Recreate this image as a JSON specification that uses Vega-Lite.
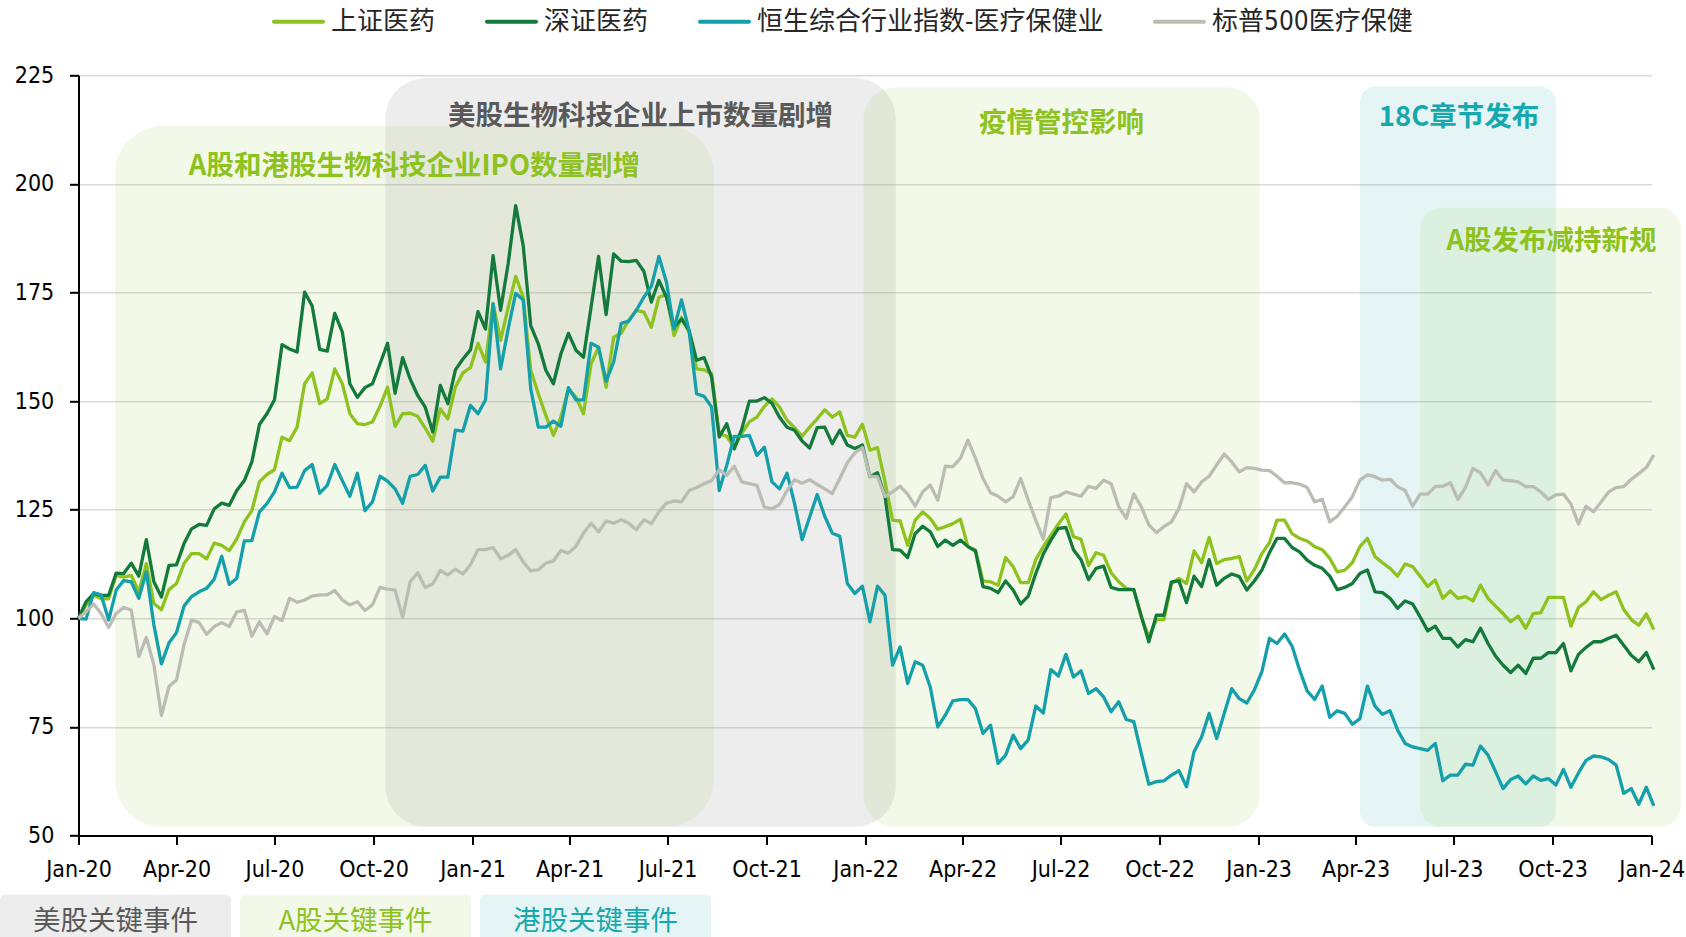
{
"$schema":"https://vega.github.io/schema/vega-lite/v6.json",
"width":1573.2,"height":760.2,
"autosize":{"type":"none"},
"padding":{"left":78.5,"top":75.3,"right":34.3,"bottom":101.5},
"background":"white",
"config":{"view":{"stroke":null},"font":"DejaVu Sans Condensed"},
"datasets":{
"regions":[
{"type":"A股关键事件","start":"2020-02-04","end":"2021-08-13","top":213.4,"label":"A股和港股生物科技企业IPO数量剧增","lx":"2020-11-08","ly":204.0},
{"type":"美股关键事件","start":"2020-10-12","end":"2022-01-29","top":224.4,"label":"美股生物科技企业上市数量剧增","lx":"2021-06-06","ly":215.3},
{"type":"A股关键事件","start":"2021-12-30","end":"2023-01-02","top":222.2,"label":"疫情管控影响","lx":"2022-07-02","ly":213.9},
{"type":"港股关键事件","start":"2023-04-05","end":"2023-10-04","top":222.4,"label":"18C章节发布","lx":"2023-07-06","ly":215.1},
{"type":"A股关键事件","start":"2023-05-31","end":"2024-01-28","top":194.5,"label":"A股发布减持新规","lx":"2023-09-30","ly":186.7}
],
"series":[
{"s":"上证医药","d":"2020-01-01","v":100},{"s":"上证医药","d":"2020-01-08","v":103},{"s":"上证医药","d":"2020-01-15","v":105.3},{"s":"上证医药","d":"2020-01-22","v":104.5},{"s":"上证医药","d":"2020-01-29","v":104.5},{"s":"上证医药","d":"2020-02-05","v":109.9},{"s":"上证医药","d":"2020-02-12","v":109.5},{"s":"上证医药","d":"2020-02-19","v":109.9},{"s":"上证医药","d":"2020-02-26","v":106.1},{"s":"上证医药","d":"2020-03-04","v":112.6},
{"s":"上证医药","d":"2020-03-11","v":103.4},{"s":"上证医药","d":"2020-03-18","v":102},{"s":"上证医药","d":"2020-03-25","v":106.6},{"s":"上证医药","d":"2020-04-01","v":108},{"s":"上证医药","d":"2020-04-08","v":112.6},{"s":"上证医药","d":"2020-04-15","v":114.9},{"s":"上证医药","d":"2020-04-22","v":114.9},{"s":"上证医药","d":"2020-04-29","v":113.7},{"s":"上证医药","d":"2020-05-06","v":117.3},{"s":"上证医药","d":"2020-05-13","v":116.8},
{"s":"上证医药","d":"2020-05-20","v":115.6},{"s":"上证医药","d":"2020-05-27","v":118.3},{"s":"上证医药","d":"2020-06-03","v":122.2},{"s":"上证医药","d":"2020-06-10","v":124.8},{"s":"上证医药","d":"2020-06-17","v":131.4},{"s":"上证医药","d":"2020-06-24","v":133.1},{"s":"上证医药","d":"2020-07-01","v":134.2},{"s":"上证医药","d":"2020-07-08","v":141.7},{"s":"上证医药","d":"2020-07-15","v":140.9},{"s":"上证医药","d":"2020-07-22","v":144},
{"s":"上证医药","d":"2020-07-29","v":154},{"s":"上证医药","d":"2020-08-05","v":156.5},{"s":"上证医药","d":"2020-08-12","v":149.4},{"s":"上证医药","d":"2020-08-19","v":150.5},{"s":"上证医药","d":"2020-08-26","v":157.4},{"s":"上证医药","d":"2020-09-02","v":154},{"s":"上证医药","d":"2020-09-09","v":147.1},{"s":"上证医药","d":"2020-09-16","v":144.8},{"s":"上证医药","d":"2020-09-23","v":144.6},{"s":"上证医药","d":"2020-09-30","v":145.2},
{"s":"上证医药","d":"2020-10-07","v":148.8},{"s":"上证医药","d":"2020-10-14","v":153.2},{"s":"上证医药","d":"2020-10-21","v":144.2},{"s":"上证医药","d":"2020-10-28","v":147.1},{"s":"上证医药","d":"2020-11-04","v":147.2},{"s":"上证医药","d":"2020-11-11","v":146.5},{"s":"上证医药","d":"2020-11-18","v":143.8},{"s":"上证医药","d":"2020-11-25","v":140.8},{"s":"上证医药","d":"2020-12-02","v":148.2},{"s":"上证医药","d":"2020-12-09","v":145.9},
{"s":"上证医药","d":"2020-12-16","v":153.2},{"s":"上证医药","d":"2020-12-23","v":156.5},{"s":"上证医药","d":"2020-12-30","v":157.7},{"s":"上证医药","d":"2021-01-06","v":163.3},{"s":"上证医药","d":"2021-01-13","v":159},{"s":"上证医药","d":"2021-01-20","v":172.5},{"s":"上证医药","d":"2021-01-27","v":164},{"s":"上证医药","d":"2021-02-03","v":171.5},{"s":"上证医药","d":"2021-02-10","v":178.7},{"s":"上证医药","d":"2021-02-17","v":173.9},
{"s":"上证医药","d":"2021-02-24","v":157.1},{"s":"上证医药","d":"2021-03-03","v":151.7},{"s":"上证医药","d":"2021-03-10","v":146.7},{"s":"上证医药","d":"2021-03-17","v":142.1},{"s":"上证医药","d":"2021-03-24","v":146.3},{"s":"上证医药","d":"2021-03-31","v":152.8},{"s":"上证医药","d":"2021-04-07","v":150.9},{"s":"上证医药","d":"2021-04-14","v":147.1},{"s":"上证医药","d":"2021-04-21","v":158.6},{"s":"上证医药","d":"2021-04-28","v":162.4},
{"s":"上证医药","d":"2021-05-05","v":153.2},{"s":"上证医药","d":"2021-05-12","v":164.7},{"s":"上证医药","d":"2021-05-19","v":165.6},{"s":"上证医药","d":"2021-05-26","v":168.6},{"s":"上证医药","d":"2021-06-02","v":170.9},{"s":"上证医药","d":"2021-06-09","v":170.5},{"s":"上证医药","d":"2021-06-16","v":167},{"s":"上证医药","d":"2021-06-23","v":173.9},{"s":"上证医药","d":"2021-06-30","v":174.5},{"s":"上证医药","d":"2021-07-07","v":165.1},
{"s":"上证医药","d":"2021-07-14","v":169.3},{"s":"上证医药","d":"2021-07-21","v":165.9},{"s":"上证医药","d":"2021-07-28","v":157.4},{"s":"上证医药","d":"2021-08-04","v":157.2},{"s":"上证医药","d":"2021-08-11","v":156.3},{"s":"上证医药","d":"2021-08-18","v":142.5},{"s":"上证医药","d":"2021-08-25","v":141.9},{"s":"上证医药","d":"2021-09-01","v":139.3},{"s":"上证医药","d":"2021-09-08","v":142.6},{"s":"上证医药","d":"2021-09-15","v":145.2},
{"s":"上证医药","d":"2021-09-22","v":146.3},{"s":"上证医药","d":"2021-09-29","v":148.8},{"s":"上证医药","d":"2021-10-06","v":150.5},{"s":"上证医药","d":"2021-10-13","v":148.6},{"s":"上证医药","d":"2021-10-20","v":145.6},{"s":"上证医药","d":"2021-10-27","v":143.9},{"s":"上证医药","d":"2021-11-03","v":141.9},{"s":"上证医药","d":"2021-11-10","v":144},{"s":"上证医药","d":"2021-11-17","v":145.9},{"s":"上证医药","d":"2021-11-24","v":148},
{"s":"上证医药","d":"2021-12-01","v":146.3},{"s":"上证医药","d":"2021-12-08","v":147.5},{"s":"上证医药","d":"2021-12-15","v":142.1},{"s":"上证医药","d":"2021-12-22","v":141.7},{"s":"上证医药","d":"2021-12-29","v":144.7},{"s":"上证医药","d":"2022-01-05","v":138.7},{"s":"上证医药","d":"2022-01-12","v":139.3},{"s":"上证医药","d":"2022-01-19","v":131.4},{"s":"上证医药","d":"2022-01-26","v":122.6},{"s":"上证医药","d":"2022-02-02","v":122.4},
{"s":"上证医药","d":"2022-02-09","v":116.8},{"s":"上证医药","d":"2022-02-16","v":122.6},{"s":"上证医药","d":"2022-02-23","v":124.5},{"s":"上证医药","d":"2022-03-02","v":123},{"s":"上证医药","d":"2022-03-09","v":120.5},{"s":"上证医药","d":"2022-03-16","v":121.1},{"s":"上证医药","d":"2022-03-23","v":121.8},{"s":"上证医药","d":"2022-03-30","v":122.8},{"s":"上证医药","d":"2022-04-06","v":116.5},{"s":"上证医药","d":"2022-04-13","v":115.7},
{"s":"上证医药","d":"2022-04-20","v":108.6},{"s":"上证医药","d":"2022-04-27","v":108.4},{"s":"上证医药","d":"2022-05-04","v":107.6},{"s":"上证医药","d":"2022-05-11","v":114},{"s":"上证医药","d":"2022-05-18","v":111.9},{"s":"上证医药","d":"2022-05-25","v":108.2},{"s":"上证医药","d":"2022-06-01","v":108.2},{"s":"上证医药","d":"2022-06-08","v":113.5},{"s":"上证医药","d":"2022-06-15","v":116.5},{"s":"上证医药","d":"2022-06-22","v":119.1},
{"s":"上证医药","d":"2022-06-29","v":121.7},{"s":"上证医药","d":"2022-07-06","v":124},{"s":"上证医药","d":"2022-07-13","v":118.8},{"s":"上证医药","d":"2022-07-20","v":118.2},{"s":"上证医药","d":"2022-07-27","v":112.2},{"s":"上证医药","d":"2022-08-03","v":115.1},{"s":"上证医药","d":"2022-08-10","v":114.5},{"s":"上证医药","d":"2022-08-17","v":110.5},{"s":"上证医药","d":"2022-08-24","v":108.4},{"s":"上证医药","d":"2022-08-31","v":106.9},
{"s":"上证医药","d":"2022-09-07","v":106.6},{"s":"上证医药","d":"2022-09-14","v":100.3},{"s":"上证医药","d":"2022-09-21","v":95.7},{"s":"上证医药","d":"2022-09-28","v":99.7},{"s":"上证医药","d":"2022-10-05","v":99.7},{"s":"上证医药","d":"2022-10-12","v":108},{"s":"上证医药","d":"2022-10-19","v":109.2},{"s":"上证医药","d":"2022-10-26","v":108},{"s":"上证医药","d":"2022-11-02","v":115.5},{"s":"上证医药","d":"2022-11-09","v":112.8},
{"s":"上证医药","d":"2022-11-16","v":118.6},{"s":"上证医药","d":"2022-11-23","v":112.6},{"s":"上证医药","d":"2022-11-30","v":113.5},{"s":"上证医药","d":"2022-12-07","v":113.8},{"s":"上证医药","d":"2022-12-14","v":114.2},{"s":"上证医药","d":"2022-12-21","v":108.6},{"s":"上证医药","d":"2022-12-28","v":111.2},{"s":"上证医药","d":"2023-01-04","v":114.9},{"s":"上证医药","d":"2023-01-11","v":117.4},{"s":"上证医药","d":"2023-01-18","v":122.6},
{"s":"上证医药","d":"2023-01-25","v":122.6},{"s":"上证医药","d":"2023-02-01","v":119.5},{"s":"上证医药","d":"2023-02-08","v":118.4},{"s":"上证医药","d":"2023-02-15","v":117.8},{"s":"上证医药","d":"2023-02-22","v":116.5},{"s":"上证医药","d":"2023-03-01","v":115.8},{"s":"上证医药","d":"2023-03-08","v":113.8},{"s":"上证医药","d":"2023-03-15","v":110.7},{"s":"上证医药","d":"2023-03-22","v":111.1},{"s":"上证医药","d":"2023-03-29","v":112.8},
{"s":"上证医药","d":"2023-04-05","v":116.5},{"s":"上证医药","d":"2023-04-12","v":118.4},{"s":"上证医药","d":"2023-04-19","v":114.2},{"s":"上证医药","d":"2023-04-26","v":112.8},{"s":"上证医药","d":"2023-05-03","v":111.5},{"s":"上证医药","d":"2023-05-10","v":109.7},{"s":"上证医药","d":"2023-05-17","v":112.5},{"s":"上证医药","d":"2023-05-24","v":111.9},{"s":"上证医药","d":"2023-05-31","v":109.7},{"s":"上证医药","d":"2023-06-07","v":107.3},
{"s":"上证医药","d":"2023-06-14","v":108.8},{"s":"上证医药","d":"2023-06-21","v":104.6},{"s":"上证医药","d":"2023-06-28","v":106.3},{"s":"上证医药","d":"2023-07-05","v":104.6},{"s":"上证医药","d":"2023-07-12","v":105},{"s":"上证医药","d":"2023-07-19","v":104},{"s":"上证医药","d":"2023-07-26","v":107.6},{"s":"上证医药","d":"2023-08-02","v":104.6},{"s":"上证医药","d":"2023-08-09","v":102.8},{"s":"上证医药","d":"2023-08-16","v":101.1},
{"s":"上证医药","d":"2023-08-23","v":99.2},{"s":"上证医药","d":"2023-08-30","v":100.5},{"s":"上证医药","d":"2023-09-06","v":97.7},{"s":"上证医药","d":"2023-09-13","v":101.1},{"s":"上证医药","d":"2023-09-20","v":101.3},{"s":"上证医药","d":"2023-09-27","v":104.8},{"s":"上证医药","d":"2023-10-04","v":104.8},{"s":"上证医药","d":"2023-10-11","v":104.8},{"s":"上证医药","d":"2023-10-18","v":98.2},{"s":"上证医药","d":"2023-10-25","v":102.5},
{"s":"上证医药","d":"2023-11-01","v":103.8},{"s":"上证医药","d":"2023-11-08","v":106.1},{"s":"上证医药","d":"2023-11-15","v":104.3},{"s":"上证医药","d":"2023-11-22","v":105.3},{"s":"上证医药","d":"2023-11-29","v":106.1},{"s":"上证医药","d":"2023-12-06","v":102},{"s":"上证医药","d":"2023-12-13","v":99.7},{"s":"上证医药","d":"2023-12-20","v":98.4},{"s":"上证医药","d":"2023-12-27","v":101},{"s":"上证医药","d":"2024-01-03","v":97.4},
{"s":"深证医药","d":"2020-01-01","v":100},{"s":"深证医药","d":"2020-01-08","v":103.8},{"s":"深证医药","d":"2020-01-15","v":105.7},{"s":"深证医药","d":"2020-01-22","v":105.3},{"s":"深证医药","d":"2020-01-29","v":105.3},{"s":"深证医药","d":"2020-02-05","v":110.4},{"s":"深证医药","d":"2020-02-12","v":110.3},{"s":"深证医药","d":"2020-02-19","v":112.7},{"s":"深证医药","d":"2020-02-26","v":109.7},{"s":"深证医药","d":"2020-03-04","v":118.1},
{"s":"深证医药","d":"2020-03-11","v":108.4},{"s":"深证医药","d":"2020-03-18","v":104.9},{"s":"深证医药","d":"2020-03-25","v":112.2},{"s":"深证医药","d":"2020-04-01","v":112.3},{"s":"深证医药","d":"2020-04-08","v":117.2},{"s":"深证医药","d":"2020-04-15","v":120.6},{"s":"深证医药","d":"2020-04-22","v":121.6},{"s":"深证医药","d":"2020-04-29","v":121.4},{"s":"深证医药","d":"2020-05-06","v":125.2},{"s":"深证医药","d":"2020-05-13","v":126.5},
{"s":"深证医药","d":"2020-05-20","v":126},{"s":"深证医药","d":"2020-05-27","v":129.4},{"s":"深证医药","d":"2020-06-03","v":131.7},{"s":"深证医药","d":"2020-06-10","v":136},{"s":"深证医药","d":"2020-06-17","v":144.6},{"s":"深证医药","d":"2020-06-24","v":147.1},{"s":"深证医药","d":"2020-07-01","v":150.3},{"s":"深证医药","d":"2020-07-08","v":163},{"s":"深证医药","d":"2020-07-15","v":162},{"s":"深证医药","d":"2020-07-22","v":161.3},
{"s":"深证医药","d":"2020-07-29","v":175.1},{"s":"深证医药","d":"2020-08-05","v":171.9},{"s":"深证医药","d":"2020-08-12","v":161.9},{"s":"深证医药","d":"2020-08-19","v":161.5},{"s":"深证医药","d":"2020-08-26","v":170.2},{"s":"深证医药","d":"2020-09-02","v":165.9},{"s":"深证医药","d":"2020-09-09","v":154},{"s":"深证医药","d":"2020-09-16","v":150.9},{"s":"深证医药","d":"2020-09-23","v":153.1},{"s":"深证医药","d":"2020-09-30","v":154},
{"s":"深证医药","d":"2020-10-07","v":158.6},{"s":"深证医药","d":"2020-10-14","v":163.3},{"s":"深证医药","d":"2020-10-21","v":151.8},{"s":"深证医药","d":"2020-10-28","v":160},{"s":"深证医药","d":"2020-11-04","v":155.1},{"s":"深证医药","d":"2020-11-11","v":151.3},{"s":"深证医药","d":"2020-11-18","v":148.6},{"s":"深证医药","d":"2020-11-25","v":142.9},{"s":"深证医药","d":"2020-12-02","v":153.6},{"s":"深证医药","d":"2020-12-09","v":149.4},
{"s":"深证医药","d":"2020-12-16","v":157.2},{"s":"深证医药","d":"2020-12-23","v":159.7},{"s":"深证医药","d":"2020-12-30","v":161.8},{"s":"深证医药","d":"2021-01-06","v":170.6},{"s":"深证医药","d":"2021-01-13","v":166.6},{"s":"深证医药","d":"2021-01-20","v":183.5},{"s":"深证医药","d":"2021-01-27","v":170.9},{"s":"深证医药","d":"2021-02-03","v":181.6},{"s":"深证医药","d":"2021-02-10","v":195},{"s":"深证医药","d":"2021-02-17","v":185.8},
{"s":"深证医药","d":"2021-02-24","v":167.4},{"s":"深证医药","d":"2021-03-03","v":163.2},{"s":"深证医药","d":"2021-03-10","v":157.1},{"s":"深证医药","d":"2021-03-17","v":154},{"s":"深证医药","d":"2021-03-24","v":160.9},{"s":"深证医药","d":"2021-03-31","v":165.6},{"s":"深证医药","d":"2021-04-07","v":161.7},{"s":"深证医药","d":"2021-04-14","v":160.1},{"s":"深证医药","d":"2021-04-21","v":171.6},{"s":"深证医药","d":"2021-04-28","v":183.3},
{"s":"深证医药","d":"2021-05-05","v":169.9},{"s":"深证医药","d":"2021-05-12","v":183.9},{"s":"深证医药","d":"2021-05-19","v":182.2},{"s":"深证医药","d":"2021-05-26","v":182.1},{"s":"深证医药","d":"2021-06-02","v":182.4},{"s":"深证医药","d":"2021-06-09","v":179.9},{"s":"深证医药","d":"2021-06-16","v":172.8},{"s":"深证医药","d":"2021-06-23","v":177.8},{"s":"深证医药","d":"2021-06-30","v":173.9},{"s":"深证医药","d":"2021-07-07","v":167},
{"s":"深证医药","d":"2021-07-14","v":168.9},{"s":"深证医药","d":"2021-07-21","v":166.3},{"s":"深证医药","d":"2021-07-28","v":159.4},{"s":"深证医药","d":"2021-08-04","v":160},{"s":"深证医药","d":"2021-08-11","v":155.5},{"s":"深证医药","d":"2021-08-18","v":141.7},{"s":"深证医药","d":"2021-08-25","v":144.8},{"s":"深证医药","d":"2021-09-01","v":139},{"s":"深证医药","d":"2021-09-08","v":143.6},{"s":"深证医药","d":"2021-09-15","v":150},
{"s":"深证医药","d":"2021-09-22","v":150},{"s":"深证医药","d":"2021-09-29","v":150.8},{"s":"深证医药","d":"2021-10-06","v":149.5},{"s":"深证医药","d":"2021-10-13","v":146.3},{"s":"深证医药","d":"2021-10-20","v":144},{"s":"深证医药","d":"2021-10-27","v":143.3},{"s":"深证医药","d":"2021-11-03","v":140.8},{"s":"深证医药","d":"2021-11-10","v":139.2},{"s":"深证医药","d":"2021-11-17","v":143.9},{"s":"深证医药","d":"2021-11-24","v":144},
{"s":"深证医药","d":"2021-12-01","v":140.2},{"s":"深证医药","d":"2021-12-08","v":143.3},{"s":"深证医药","d":"2021-12-15","v":139.9},{"s":"深证医药","d":"2021-12-22","v":139.1},{"s":"深证医药","d":"2021-12-29","v":139.9},{"s":"深证医药","d":"2022-01-05","v":132.6},{"s":"深证医药","d":"2022-01-12","v":133.5},{"s":"深证医药","d":"2022-01-19","v":128},{"s":"深证医药","d":"2022-01-26","v":115.8},{"s":"深证医药","d":"2022-02-02","v":115.7},
{"s":"深证医药","d":"2022-02-09","v":114},{"s":"深证医药","d":"2022-02-16","v":119.5},{"s":"深证医药","d":"2022-02-23","v":121.2},{"s":"深证医药","d":"2022-03-02","v":119.9},{"s":"深证医药","d":"2022-03-09","v":116.5},{"s":"深证医药","d":"2022-03-16","v":118},{"s":"深证医药","d":"2022-03-23","v":116.8},{"s":"深证医药","d":"2022-03-30","v":118},{"s":"深证医药","d":"2022-04-06","v":116.5},{"s":"深证医药","d":"2022-04-13","v":115.5},
{"s":"深证医药","d":"2022-04-20","v":107.3},{"s":"深证医药","d":"2022-04-27","v":106.9},{"s":"深证医药","d":"2022-05-04","v":105.9},{"s":"深证医药","d":"2022-05-11","v":108.6},{"s":"深证医药","d":"2022-05-18","v":106.5},{"s":"深证医药","d":"2022-05-25","v":103.3},{"s":"深证医药","d":"2022-06-01","v":105.1},{"s":"深证医药","d":"2022-06-08","v":110.3},{"s":"深证医药","d":"2022-06-15","v":114.8},{"s":"深证医药","d":"2022-06-22","v":118},
{"s":"深证医药","d":"2022-06-29","v":120.7},{"s":"深证医药","d":"2022-07-06","v":120.9},{"s":"深证医药","d":"2022-07-13","v":115.8},{"s":"深证医药","d":"2022-07-20","v":113.5},{"s":"深证医药","d":"2022-07-27","v":108.9},{"s":"深证医药","d":"2022-08-03","v":111.5},{"s":"深证医药","d":"2022-08-10","v":112},{"s":"深证医药","d":"2022-08-17","v":107.1},{"s":"深证医药","d":"2022-08-24","v":106.6},{"s":"深证医药","d":"2022-08-31","v":106.6},
{"s":"深证医药","d":"2022-09-07","v":106.6},{"s":"深证医药","d":"2022-09-14","v":100.5},{"s":"深证医药","d":"2022-09-21","v":94.6},{"s":"深证医药","d":"2022-09-28","v":100.7},{"s":"深证医药","d":"2022-10-05","v":100.7},{"s":"深证医药","d":"2022-10-12","v":108.4},{"s":"深证医药","d":"2022-10-19","v":108.6},{"s":"深证医药","d":"2022-10-26","v":103.6},{"s":"深证医药","d":"2022-11-02","v":109.7},{"s":"深证医药","d":"2022-11-09","v":107.3},
{"s":"深证医药","d":"2022-11-16","v":113.5},{"s":"深证医药","d":"2022-11-23","v":107.6},{"s":"深证医药","d":"2022-11-30","v":109.2},{"s":"深证医药","d":"2022-12-07","v":110.2},{"s":"深证医药","d":"2022-12-14","v":109.6},{"s":"深证医药","d":"2022-12-21","v":106.5},{"s":"深证医药","d":"2022-12-28","v":108.6},{"s":"深证医药","d":"2023-01-04","v":111.1},{"s":"深证医药","d":"2023-01-11","v":115.1},{"s":"深证医药","d":"2023-01-18","v":118.4},
{"s":"深证医药","d":"2023-01-25","v":118.4},{"s":"深证医药","d":"2023-02-01","v":116.3},{"s":"深证医药","d":"2023-02-08","v":115.3},{"s":"深证医药","d":"2023-02-15","v":113.4},{"s":"深证医药","d":"2023-02-22","v":112.2},{"s":"深证医药","d":"2023-03-01","v":111.5},{"s":"深证医药","d":"2023-03-08","v":109.7},{"s":"深证医药","d":"2023-03-15","v":106.6},{"s":"深证医药","d":"2023-03-22","v":107.1},{"s":"深证医药","d":"2023-03-29","v":108},
{"s":"深证医药","d":"2023-04-05","v":110.3},{"s":"深证医药","d":"2023-04-12","v":111.1},{"s":"深证医药","d":"2023-04-19","v":106.1},{"s":"深证医药","d":"2023-04-26","v":105.9},{"s":"深证医药","d":"2023-05-03","v":104.6},{"s":"深证医药","d":"2023-05-10","v":102.3},{"s":"深证医药","d":"2023-05-17","v":104},{"s":"深证医药","d":"2023-05-24","v":103.3},{"s":"深证医药","d":"2023-05-31","v":100.3},{"s":"深证医药","d":"2023-06-07","v":97.1},
{"s":"深证医药","d":"2023-06-14","v":98.2},{"s":"深证医药","d":"2023-06-21","v":95.4},{"s":"深证医药","d":"2023-06-28","v":95.4},{"s":"深证医药","d":"2023-07-05","v":93.4},{"s":"深证医药","d":"2023-07-12","v":95.1},{"s":"深证医药","d":"2023-07-19","v":94.6},{"s":"深证医药","d":"2023-07-26","v":97.7},{"s":"深证医药","d":"2023-08-02","v":94.2},{"s":"深证医药","d":"2023-08-09","v":91.3},{"s":"深证医药","d":"2023-08-16","v":89.2},
{"s":"深证医药","d":"2023-08-23","v":87.5},{"s":"深证医药","d":"2023-08-30","v":89.2},{"s":"深证医药","d":"2023-09-06","v":87.3},{"s":"深证医药","d":"2023-09-13","v":90.8},{"s":"深证医药","d":"2023-09-20","v":90.8},{"s":"深证医药","d":"2023-09-27","v":92.1},{"s":"深证医药","d":"2023-10-04","v":92.1},{"s":"深证医药","d":"2023-10-11","v":94.2},{"s":"深证医药","d":"2023-10-18","v":87.9},{"s":"深证医药","d":"2023-10-25","v":91.7},
{"s":"深证医药","d":"2023-11-01","v":93.3},{"s":"深证医药","d":"2023-11-08","v":94.6},{"s":"深证医药","d":"2023-11-15","v":94.6},{"s":"深证医药","d":"2023-11-22","v":95.4},{"s":"深证医药","d":"2023-11-29","v":96.1},{"s":"深证医药","d":"2023-12-06","v":93.8},{"s":"深证医药","d":"2023-12-13","v":91.5},{"s":"深证医药","d":"2023-12-20","v":90},{"s":"深证医药","d":"2023-12-27","v":92.1},{"s":"深证医药","d":"2024-01-03","v":88.2},
{"s":"恒生综合行业指数-医疗保健业","d":"2020-01-01","v":100},{"s":"恒生综合行业指数-医疗保健业","d":"2020-01-08","v":99.8},{"s":"恒生综合行业指数-医疗保健业","d":"2020-01-15","v":105.9},{"s":"恒生综合行业指数-医疗保健业","d":"2020-01-22","v":105.4},{"s":"恒生综合行业指数-医疗保健业","d":"2020-01-29","v":99.6},{"s":"恒生综合行业指数-医疗保健业","d":"2020-02-05","v":106.5},{"s":"恒生综合行业指数-医疗保健业","d":"2020-02-12","v":108.7},{"s":"恒生综合行业指数-医疗保健业","d":"2020-02-19","v":108.4},{"s":"恒生综合行业指数-医疗保健业","d":"2020-02-26","v":104.6},{"s":"恒生综合行业指数-医疗保健业","d":"2020-03-04","v":110.7},
{"s":"恒生综合行业指数-医疗保健业","d":"2020-03-11","v":98.5},{"s":"恒生综合行业指数-医疗保健业","d":"2020-03-18","v":89.5},{"s":"恒生综合行业指数-医疗保健业","d":"2020-03-25","v":94.3},{"s":"恒生综合行业指数-医疗保健业","d":"2020-04-01","v":96.7},{"s":"恒生综合行业指数-医疗保健业","d":"2020-04-08","v":102.8},{"s":"恒生综合行业指数-医疗保健业","d":"2020-04-15","v":105},{"s":"恒生综合行业指数-医疗保健业","d":"2020-04-22","v":106.1},{"s":"恒生综合行业指数-医疗保健业","d":"2020-04-29","v":106.9},{"s":"恒生综合行业指数-医疗保健业","d":"2020-05-06","v":109},{"s":"恒生综合行业指数-医疗保健业","d":"2020-05-13","v":114.3},
{"s":"恒生综合行业指数-医疗保健业","d":"2020-05-20","v":107.8},{"s":"恒生综合行业指数-医疗保健业","d":"2020-05-27","v":109.2},{"s":"恒生综合行业指数-医疗保健业","d":"2020-06-03","v":117.8},{"s":"恒生综合行业指数-医疗保健业","d":"2020-06-10","v":117.9},{"s":"恒生综合行业指数-医疗保健业","d":"2020-06-17","v":124.5},{"s":"恒生综合行业指数-医疗保健业","d":"2020-06-24","v":126.4},{"s":"恒生综合行业指数-医疗保健业","d":"2020-07-01","v":129.1},{"s":"恒生综合行业指数-医疗保健业","d":"2020-07-08","v":133.4},{"s":"恒生综合行业指数-医疗保健业","d":"2020-07-15","v":130.1},{"s":"恒生综合行业指数-医疗保健业","d":"2020-07-22","v":130.2},
{"s":"恒生综合行业指数-医疗保健业","d":"2020-07-29","v":134},{"s":"恒生综合行业指数-医疗保健业","d":"2020-08-05","v":135.4},{"s":"恒生综合行业指数-医疗保健业","d":"2020-08-12","v":128.8},{"s":"恒生综合行业指数-医疗保健业","d":"2020-08-19","v":130.6},{"s":"恒生综合行业指数-医疗保健业","d":"2020-08-26","v":135.4},{"s":"恒生综合行业指数-医疗保健业","d":"2020-09-02","v":131.7},{"s":"恒生综合行业指数-医疗保健业","d":"2020-09-09","v":128.1},{"s":"恒生综合行业指数-医疗保健业","d":"2020-09-16","v":133.4},{"s":"恒生综合行业指数-医疗保健业","d":"2020-09-23","v":124.8},{"s":"恒生综合行业指数-医疗保健业","d":"2020-09-30","v":126.8},
{"s":"恒生综合行业指数-医疗保健业","d":"2020-10-07","v":132.7},{"s":"恒生综合行业指数-医疗保健业","d":"2020-10-14","v":131.6},{"s":"恒生综合行业指数-医疗保健业","d":"2020-10-21","v":129.8},{"s":"恒生综合行业指数-医疗保健业","d":"2020-10-28","v":126.5},{"s":"恒生综合行业指数-医疗保健业","d":"2020-11-04","v":132.7},{"s":"恒生综合行业指数-医疗保健业","d":"2020-11-11","v":133.1},{"s":"恒生综合行业指数-医疗保健业","d":"2020-11-18","v":135.2},{"s":"恒生综合行业指数-医疗保健业","d":"2020-11-25","v":129.3},{"s":"恒生综合行业指数-医疗保健业","d":"2020-12-02","v":132.5},{"s":"恒生综合行业指数-医疗保健业","d":"2020-12-09","v":132.5},
{"s":"恒生综合行业指数-医疗保健业","d":"2020-12-16","v":143.3},{"s":"恒生综合行业指数-医疗保健业","d":"2020-12-23","v":143.1},{"s":"恒生综合行业指数-医疗保健业","d":"2020-12-30","v":149},{"s":"恒生综合行业指数-医疗保健业","d":"2021-01-06","v":147.1},{"s":"恒生综合行业指数-医疗保健业","d":"2021-01-13","v":150.3},{"s":"恒生综合行业指数-医疗保健业","d":"2021-01-20","v":172.4},{"s":"恒生综合行业指数-医疗保健业","d":"2021-01-27","v":157.4},{"s":"恒生综合行业指数-医疗保健业","d":"2021-02-03","v":166.6},{"s":"恒生综合行业指数-医疗保健业","d":"2021-02-10","v":174.8},{"s":"恒生综合行业指数-医疗保健业","d":"2021-02-17","v":173.3},
{"s":"恒生综合行业指数-医疗保健业","d":"2021-02-24","v":152.8},{"s":"恒生综合行业指数-医疗保健业","d":"2021-03-03","v":144},{"s":"恒生综合行业指数-医疗保健业","d":"2021-03-10","v":144},{"s":"恒生综合行业指数-医疗保健业","d":"2021-03-17","v":145.4},{"s":"恒生综合行业指数-医疗保健业","d":"2021-03-24","v":144.2},{"s":"恒生综合行业指数-医疗保健业","d":"2021-03-31","v":153.1},{"s":"恒生综合行业指数-医疗保健业","d":"2021-04-07","v":150.3},{"s":"恒生综合行业指数-医疗保健业","d":"2021-04-14","v":150.3},{"s":"恒生综合行业指数-医疗保健业","d":"2021-04-21","v":163.3},{"s":"恒生综合行业指数-医疗保健业","d":"2021-04-28","v":162.4},
{"s":"恒生综合行业指数-医疗保健业","d":"2021-05-05","v":154.6},{"s":"恒生综合行业指数-医疗保健业","d":"2021-05-12","v":159},{"s":"恒生综合行业指数-医疗保健业","d":"2021-05-19","v":167.9},{"s":"恒生综合行业指数-医疗保健业","d":"2021-05-26","v":168.4},{"s":"恒生综合行业指数-医疗保健业","d":"2021-06-02","v":170.9},{"s":"恒生综合行业指数-医疗保健业","d":"2021-06-09","v":173.9},{"s":"恒生综合行业指数-医疗保健业","d":"2021-06-16","v":176.4},{"s":"恒生综合行业指数-医疗保健业","d":"2021-06-23","v":183.3},{"s":"恒生综合行业指数-医疗保健业","d":"2021-06-30","v":177.4},{"s":"恒生综合行业指数-医疗保健业","d":"2021-07-07","v":166.6},
{"s":"恒生综合行业指数-医疗保健业","d":"2021-07-14","v":173.3},{"s":"恒生综合行业指数-医疗保健业","d":"2021-07-21","v":166.3},{"s":"恒生综合行业指数-医疗保健业","d":"2021-07-28","v":151.7},{"s":"恒生综合行业指数-医疗保健业","d":"2021-08-04","v":151.1},{"s":"恒生综合行业指数-医疗保健业","d":"2021-08-11","v":148.6},{"s":"恒生综合行业指数-医疗保健业","d":"2021-08-18","v":129.4},{"s":"恒生综合行业指数-医疗保健业","d":"2021-08-25","v":135.2},{"s":"恒生综合行业指数-医疗保健业","d":"2021-09-01","v":141.9},{"s":"恒生综合行业指数-医疗保健业","d":"2021-09-08","v":141.9},{"s":"恒生综合行业指数-医疗保健业","d":"2021-09-15","v":142.1},
{"s":"恒生综合行业指数-医疗保健业","d":"2021-09-22","v":137.5},{"s":"恒生综合行业指数-医疗保健业","d":"2021-09-29","v":139.4},{"s":"恒生综合行业指数-医疗保健业","d":"2021-10-06","v":131.4},{"s":"恒生综合行业指数-医疗保健业","d":"2021-10-13","v":129.8},{"s":"恒生综合行业指数-医疗保健业","d":"2021-10-20","v":133.4},{"s":"恒生综合行业指数-医疗保健业","d":"2021-10-27","v":126.4},{"s":"恒生综合行业指数-医疗保健业","d":"2021-11-03","v":118.1},{"s":"恒生综合行业指数-医疗保健业","d":"2021-11-10","v":123.3},{"s":"恒生综合行业指数-医疗保健业","d":"2021-11-17","v":128.5},{"s":"恒生综合行业指数-医疗保健业","d":"2021-11-24","v":123.5},
{"s":"恒生综合行业指数-医疗保健业","d":"2021-12-01","v":119.6},{"s":"恒生综合行业指数-医疗保健业","d":"2021-12-08","v":118.9},{"s":"恒生综合行业指数-医疗保健业","d":"2021-12-15","v":108},{"s":"恒生综合行业指数-医疗保健业","d":"2021-12-22","v":105.7},{"s":"恒生综合行业指数-医疗保健业","d":"2021-12-29","v":107.4},{"s":"恒生综合行业指数-医疗保健业","d":"2022-01-05","v":99.2},{"s":"恒生综合行业指数-医疗保健业","d":"2022-01-12","v":107.4},{"s":"恒生综合行业指数-医疗保健业","d":"2022-01-19","v":105.3},{"s":"恒生综合行业指数-医疗保健业","d":"2022-01-26","v":89.2},{"s":"恒生综合行业指数-医疗保健业","d":"2022-02-02","v":93.4},
{"s":"恒生综合行业指数-医疗保健业","d":"2022-02-09","v":85},{"s":"恒生综合行业指数-医疗保健业","d":"2022-02-16","v":90},{"s":"恒生综合行业指数-医疗保健业","d":"2022-02-23","v":89.2},{"s":"恒生综合行业指数-医疗保健业","d":"2022-03-02","v":84.2},{"s":"恒生综合行业指数-医疗保健业","d":"2022-03-09","v":75},{"s":"恒生综合行业指数-医疗保健业","d":"2022-03-16","v":77.7},{"s":"恒生综合行业指数-医疗保健业","d":"2022-03-23","v":81},{"s":"恒生综合行业指数-医疗保健业","d":"2022-03-30","v":81.3},{"s":"恒生综合行业指数-医疗保健业","d":"2022-04-06","v":81.3},{"s":"恒生综合行业指数-医疗保健业","d":"2022-04-13","v":79.2},
{"s":"恒生综合行业指数-医疗保健业","d":"2022-04-20","v":73.5},{"s":"恒生综合行业指数-医疗保健业","d":"2022-04-27","v":75.4},{"s":"恒生综合行业指数-医疗保健业","d":"2022-05-04","v":66.6},{"s":"恒生综合行业指数-医疗保健业","d":"2022-05-11","v":68.5},{"s":"恒生综合行业指数-医疗保健业","d":"2022-05-18","v":73.1},{"s":"恒生综合行业指数-医疗保健业","d":"2022-05-25","v":70},{"s":"恒生综合行业指数-医疗保健业","d":"2022-06-01","v":72},{"s":"恒生综合行业指数-医疗保健业","d":"2022-06-08","v":79.8},{"s":"恒生综合行业指数-医疗保健业","d":"2022-06-15","v":78.2},{"s":"恒生综合行业指数-医疗保健业","d":"2022-06-22","v":88.2},
{"s":"恒生综合行业指数-医疗保健业","d":"2022-06-29","v":86.7},{"s":"恒生综合行业指数-医疗保健业","d":"2022-07-06","v":91.7},{"s":"恒生综合行业指数-医疗保健业","d":"2022-07-13","v":86.5},{"s":"恒生综合行业指数-医疗保健业","d":"2022-07-20","v":87.9},{"s":"恒生综合行业指数-医疗保健业","d":"2022-07-27","v":82.7},{"s":"恒生综合行业指数-医疗保健业","d":"2022-08-03","v":83.8},{"s":"恒生综合行业指数-医疗保健业","d":"2022-08-10","v":81.9},{"s":"恒生综合行业指数-医疗保健业","d":"2022-08-17","v":78.5},{"s":"恒生综合行业指数-医疗保健业","d":"2022-08-24","v":80.8},{"s":"恒生综合行业指数-医疗保健业","d":"2022-08-31","v":76.7},
{"s":"恒生综合行业指数-医疗保健业","d":"2022-09-07","v":76.2},{"s":"恒生综合行业指数-医疗保健业","d":"2022-09-14","v":68.9},{"s":"恒生综合行业指数-医疗保健业","d":"2022-09-21","v":61.8},{"s":"恒生综合行业指数-医疗保健业","d":"2022-09-28","v":62.4},{"s":"恒生综合行业指数-医疗保健业","d":"2022-10-05","v":62.6},{"s":"恒生综合行业指数-医疗保健业","d":"2022-10-12","v":63.9},{"s":"恒生综合行业指数-医疗保健业","d":"2022-10-19","v":64.9},{"s":"恒生综合行业指数-医疗保健业","d":"2022-10-26","v":61.2},{"s":"恒生综合行业指数-医疗保健业","d":"2022-11-02","v":69.3},{"s":"恒生综合行业指数-医疗保健业","d":"2022-11-09","v":72.7},
{"s":"恒生综合行业指数-医疗保健业","d":"2022-11-16","v":78.1},{"s":"恒生综合行业指数-医疗保健业","d":"2022-11-23","v":72.3},{"s":"恒生综合行业指数-医疗保健业","d":"2022-11-30","v":78.1},{"s":"恒生综合行业指数-医疗保健业","d":"2022-12-07","v":83.8},{"s":"恒生综合行业指数-医疗保健业","d":"2022-12-14","v":81.5},{"s":"恒生综合行业指数-医疗保健业","d":"2022-12-21","v":80.5},{"s":"恒生综合行业指数-医疗保健业","d":"2022-12-28","v":83.5},{"s":"恒生综合行业指数-医疗保健业","d":"2023-01-04","v":87.7},{"s":"恒生综合行业指数-医疗保健业","d":"2023-01-11","v":95.4},{"s":"恒生综合行业指数-医疗保健业","d":"2023-01-18","v":94.2},
{"s":"恒生综合行业指数-医疗保健业","d":"2023-01-25","v":96.4},{"s":"恒生综合行业指数-医疗保健业","d":"2023-02-01","v":93.6},{"s":"恒生综合行业指数-医疗保健业","d":"2023-02-08","v":88.1},{"s":"恒生综合行业指数-医疗保健业","d":"2023-02-15","v":83.3},{"s":"恒生综合行业指数-医疗保健业","d":"2023-02-22","v":81.3},{"s":"恒生综合行业指数-医疗保健业","d":"2023-03-01","v":84.4},{"s":"恒生综合行业指数-医疗保健业","d":"2023-03-08","v":77.2},{"s":"恒生综合行业指数-医疗保健业","d":"2023-03-15","v":78.7},{"s":"恒生综合行业指数-医疗保健业","d":"2023-03-22","v":78.1},{"s":"恒生综合行业指数-医疗保健业","d":"2023-03-29","v":75.6},
{"s":"恒生综合行业指数-医疗保健业","d":"2023-04-05","v":76.9},{"s":"恒生综合行业指数-医疗保健业","d":"2023-04-12","v":84.4},{"s":"恒生综合行业指数-医疗保健业","d":"2023-04-19","v":79.8},{"s":"恒生综合行业指数-医疗保健业","d":"2023-04-26","v":77.9},{"s":"恒生综合行业指数-医疗保健业","d":"2023-05-03","v":78.7},{"s":"恒生综合行业指数-医疗保健业","d":"2023-05-10","v":74.3},{"s":"恒生综合行业指数-医疗保健业","d":"2023-05-17","v":71.2},{"s":"恒生综合行业指数-医疗保健业","d":"2023-05-24","v":70.4},{"s":"恒生综合行业指数-医疗保健业","d":"2023-05-31","v":70},{"s":"恒生综合行业指数-医疗保健业","d":"2023-06-07","v":69.6},
{"s":"恒生综合行业指数-医疗保健业","d":"2023-06-14","v":71.2},{"s":"恒生综合行业指数-医疗保健业","d":"2023-06-21","v":62.6},{"s":"恒生综合行业指数-医疗保健业","d":"2023-06-28","v":63.9},{"s":"恒生综合行业指数-医疗保健业","d":"2023-07-05","v":63.9},{"s":"恒生综合行业指数-医疗保健业","d":"2023-07-12","v":66.4},{"s":"恒生综合行业指数-医疗保健业","d":"2023-07-19","v":66.2},{"s":"恒生综合行业指数-医疗保健业","d":"2023-07-26","v":70.6},{"s":"恒生综合行业指数-医疗保健业","d":"2023-08-02","v":68.5},{"s":"恒生综合行业指数-医疗保健业","d":"2023-08-09","v":64.7},{"s":"恒生综合行业指数-医疗保健业","d":"2023-08-16","v":60.8},
{"s":"恒生综合行业指数-医疗保健业","d":"2023-08-23","v":62.9},{"s":"恒生综合行业指数-医疗保健业","d":"2023-08-30","v":63.7},{"s":"恒生综合行业指数-医疗保健业","d":"2023-09-06","v":61.9},{"s":"恒生综合行业指数-医疗保健业","d":"2023-09-13","v":63.7},{"s":"恒生综合行业指数-医疗保健业","d":"2023-09-20","v":62.7},{"s":"恒生综合行业指数-医疗保健业","d":"2023-09-27","v":63.1},{"s":"恒生综合行业指数-医疗保健业","d":"2023-10-04","v":61.6},{"s":"恒生综合行业指数-医疗保健业","d":"2023-10-11","v":65.2},{"s":"恒生综合行业指数-医疗保健业","d":"2023-10-18","v":61.1},{"s":"恒生综合行业指数-医疗保健业","d":"2023-10-25","v":64.4},
{"s":"恒生综合行业指数-医疗保健业","d":"2023-11-01","v":67.3},{"s":"恒生综合行业指数-医疗保健业","d":"2023-11-08","v":68.3},{"s":"恒生综合行业指数-医疗保健业","d":"2023-11-15","v":68.1},{"s":"恒生综合行业指数-医疗保健业","d":"2023-11-22","v":67.5},{"s":"恒生综合行业指数-医疗保健业","d":"2023-11-29","v":66.2},{"s":"恒生综合行业指数-医疗保健业","d":"2023-12-06","v":59.7},{"s":"恒生综合行业指数-医疗保健业","d":"2023-12-13","v":60.8},{"s":"恒生综合行业指数-医疗保健业","d":"2023-12-20","v":57.2},{"s":"恒生综合行业指数-医疗保健业","d":"2023-12-27","v":61.1},{"s":"恒生综合行业指数-医疗保健业","d":"2024-01-03","v":56.8},
{"s":"标普500医疗保健","d":"2020-01-01","v":100},{"s":"标普500医疗保健","d":"2020-01-08","v":101.5},{"s":"标普500医疗保健","d":"2020-01-15","v":103.3},{"s":"标普500医疗保健","d":"2020-01-22","v":101.1},{"s":"标普500医疗保健","d":"2020-01-29","v":97.9},{"s":"标普500医疗保健","d":"2020-02-05","v":101.1},{"s":"标普500医疗保健","d":"2020-02-12","v":102.5},{"s":"标普500医疗保健","d":"2020-02-19","v":101.9},{"s":"标普500医疗保健","d":"2020-02-26","v":91.2},{"s":"标普500医疗保健","d":"2020-03-04","v":95.6},
{"s":"标普500医疗保健","d":"2020-03-11","v":89.3},{"s":"标普500医疗保健","d":"2020-03-18","v":77.6},{"s":"标普500医疗保健","d":"2020-03-25","v":84.3},{"s":"标普500医疗保健","d":"2020-04-01","v":85.8},{"s":"标普500医疗保健","d":"2020-04-08","v":93.9},{"s":"标普500医疗保健","d":"2020-04-15","v":99.6},{"s":"标普500医疗保健","d":"2020-04-22","v":99},{"s":"标普500医疗保健","d":"2020-04-29","v":96.3},{"s":"标普500医疗保健","d":"2020-05-06","v":98.1},{"s":"标普500医疗保健","d":"2020-05-13","v":99},
{"s":"标普500医疗保健","d":"2020-05-20","v":98.1},{"s":"标普500医疗保健","d":"2020-05-27","v":101.5},{"s":"标普500医疗保健","d":"2020-06-03","v":101.8},{"s":"标普500医疗保健","d":"2020-06-10","v":95.9},{"s":"标普500医疗保健","d":"2020-06-17","v":99.2},{"s":"标普500医疗保健","d":"2020-06-24","v":96.4},{"s":"标普500医疗保健","d":"2020-07-01","v":100.4},{"s":"标普500医疗保健","d":"2020-07-08","v":99.5},{"s":"标普500医疗保健","d":"2020-07-15","v":104.6},{"s":"标普500医疗保健","d":"2020-07-22","v":103.7},
{"s":"标普500医疗保健","d":"2020-07-29","v":104.2},{"s":"标普500医疗保健","d":"2020-08-05","v":105.1},{"s":"标普500医疗保健","d":"2020-08-12","v":105.4},{"s":"标普500医疗保健","d":"2020-08-19","v":105.4},{"s":"标普500医疗保健","d":"2020-08-26","v":106.4},{"s":"标普500医疗保健","d":"2020-09-02","v":104.2},{"s":"标普500医疗保健","d":"2020-09-09","v":103.1},{"s":"标普500医疗保健","d":"2020-09-16","v":103.8},{"s":"标普500医疗保健","d":"2020-09-23","v":101.8},{"s":"标普500医疗保健","d":"2020-09-30","v":103.1},
{"s":"标普500医疗保健","d":"2020-10-07","v":107.1},{"s":"标普500医疗保健","d":"2020-10-14","v":106.7},{"s":"标普500医疗保健","d":"2020-10-21","v":106.5},{"s":"标普500医疗保健","d":"2020-10-28","v":100.2},{"s":"标普500医疗保健","d":"2020-11-04","v":108.4},{"s":"标普500医疗保健","d":"2020-11-11","v":110.5},{"s":"标普500医疗保健","d":"2020-11-18","v":107.1},{"s":"标普500医疗保健","d":"2020-11-25","v":107.9},{"s":"标普500医疗保健","d":"2020-12-02","v":111},{"s":"标普500医疗保健","d":"2020-12-09","v":110},
{"s":"标普500医疗保健","d":"2020-12-16","v":111.3},{"s":"标普500医疗保健","d":"2020-12-23","v":110.2},{"s":"标普500医疗保健","d":"2020-12-30","v":112.3},{"s":"标普500医疗保健","d":"2021-01-06","v":115.8},{"s":"标普500医疗保健","d":"2021-01-13","v":115.8},{"s":"标普500医疗保健","d":"2021-01-20","v":116.3},{"s":"标普500医疗保健","d":"2021-01-27","v":113.7},{"s":"标普500医疗保健","d":"2021-02-03","v":114.5},{"s":"标普500医疗保健","d":"2021-02-10","v":115.8},{"s":"标普500医疗保健","d":"2021-02-17","v":113},
{"s":"标普500医疗保健","d":"2021-02-24","v":110.9},{"s":"标普500医疗保健","d":"2021-03-03","v":111.2},{"s":"标普500医疗保健","d":"2021-03-10","v":112.7},{"s":"标普500医疗保健","d":"2021-03-17","v":113.2},{"s":"标普500医疗保健","d":"2021-03-24","v":115.6},{"s":"标普500医疗保健","d":"2021-03-31","v":115},{"s":"标普500医疗保健","d":"2021-04-07","v":116.6},{"s":"标普500医疗保健","d":"2021-04-14","v":119.6},{"s":"标普500医疗保健","d":"2021-04-21","v":121.9},{"s":"标普500医疗保健","d":"2021-04-28","v":119.9},
{"s":"标普500医疗保健","d":"2021-05-05","v":122.4},{"s":"标普500医疗保健","d":"2021-05-12","v":121.9},{"s":"标普500医疗保健","d":"2021-05-19","v":122.7},{"s":"标普500医疗保健","d":"2021-05-26","v":121.9},{"s":"标普500医疗保健","d":"2021-06-02","v":120.4},{"s":"标普500医疗保健","d":"2021-06-09","v":122.7},{"s":"标普500医疗保健","d":"2021-06-16","v":121.8},{"s":"标普500医疗保健","d":"2021-06-23","v":124.5},{"s":"标普500医疗保健","d":"2021-06-30","v":126.5},{"s":"标普500医疗保健","d":"2021-07-07","v":127},
{"s":"标普500医疗保健","d":"2021-07-14","v":126.8},{"s":"标普500医疗保健","d":"2021-07-21","v":129.4},{"s":"标普500医疗保健","d":"2021-07-28","v":130.1},{"s":"标普500医疗保健","d":"2021-08-04","v":131},{"s":"标普500医疗保健","d":"2021-08-11","v":131.7},{"s":"标普500医疗保健","d":"2021-08-18","v":134.2},{"s":"标普500医疗保健","d":"2021-08-25","v":132.9},{"s":"标普500医疗保健","d":"2021-09-01","v":135},{"s":"标普500医疗保健","d":"2021-09-08","v":131.4},{"s":"标普500医疗保健","d":"2021-09-15","v":131},
{"s":"标普500医疗保健","d":"2021-09-22","v":130.6},{"s":"标普500医疗保健","d":"2021-09-29","v":125.6},{"s":"标普500医疗保健","d":"2021-10-06","v":125.2},{"s":"标普500医疗保健","d":"2021-10-13","v":126.2},{"s":"标普500医疗保健","d":"2021-10-20","v":129.4},{"s":"标普500医疗保健","d":"2021-10-27","v":131.9},{"s":"标普500医疗保健","d":"2021-11-03","v":131.1},{"s":"标普500医疗保健","d":"2021-11-10","v":131.9},{"s":"标普500医疗保健","d":"2021-11-17","v":130.8},{"s":"标普500医疗保健","d":"2021-11-24","v":129.8},
{"s":"标普500医疗保健","d":"2021-12-01","v":128.7},{"s":"标普500医疗保健","d":"2021-12-08","v":132.2},{"s":"标普500医疗保健","d":"2021-12-15","v":135.8},{"s":"标普500医疗保健","d":"2021-12-22","v":138.1},{"s":"标普500医疗保健","d":"2021-12-29","v":139.3},{"s":"标普500医疗保健","d":"2022-01-05","v":132.7},{"s":"标普500医疗保健","d":"2022-01-12","v":132.6},{"s":"标普500医疗保健","d":"2022-01-19","v":128},{"s":"标普500医疗保健","d":"2022-01-26","v":129.1},{"s":"标普500医疗保健","d":"2022-02-02","v":130.4},
{"s":"标普500医疗保健","d":"2022-02-09","v":128.6},{"s":"标普500医疗保健","d":"2022-02-16","v":125.8},{"s":"标普500医疗保健","d":"2022-02-23","v":129.1},{"s":"标普500医疗保健","d":"2022-03-02","v":130.7},{"s":"标普500医疗保健","d":"2022-03-09","v":127.2},{"s":"标普500医疗保健","d":"2022-03-16","v":135},{"s":"标普500医疗保健","d":"2022-03-23","v":134.9},{"s":"标普500医疗保健","d":"2022-03-30","v":136.8},{"s":"标普500医疗保健","d":"2022-04-06","v":141},{"s":"标普500医疗保健","d":"2022-04-13","v":136.8},
{"s":"标普500医疗保健","d":"2022-04-20","v":132.2},{"s":"标普500医疗保健","d":"2022-04-27","v":128.9},{"s":"标普500医疗保健","d":"2022-05-04","v":128.1},{"s":"标普500医疗保健","d":"2022-05-11","v":126.8},{"s":"标普500医疗保健","d":"2022-05-18","v":128},{"s":"标普500医疗保健","d":"2022-05-25","v":132.2},{"s":"标普500医疗保健","d":"2022-06-01","v":127.2},{"s":"标普500医疗保健","d":"2022-06-08","v":122.6},{"s":"标普500医疗保健","d":"2022-06-15","v":118.2},{"s":"标普500医疗保健","d":"2022-06-22","v":127.8},
{"s":"标普500医疗保健","d":"2022-06-29","v":128.1},{"s":"标普500医疗保健","d":"2022-07-06","v":129.1},{"s":"标普500医疗保健","d":"2022-07-13","v":128.6},{"s":"标普500医疗保健","d":"2022-07-20","v":128.1},{"s":"标普500医疗保健","d":"2022-07-27","v":130.4},{"s":"标普500医疗保健","d":"2022-08-03","v":129.9},{"s":"标普500医疗保健","d":"2022-08-10","v":131.8},{"s":"标普500医疗保健","d":"2022-08-17","v":131},{"s":"标普500医疗保健","d":"2022-08-24","v":125.7},{"s":"标普500医疗保健","d":"2022-08-31","v":123},
{"s":"标普500医疗保健","d":"2022-09-07","v":128.6},{"s":"标普500医疗保健","d":"2022-09-14","v":125.7},{"s":"标普500医疗保健","d":"2022-09-21","v":121.5},{"s":"标普500医疗保健","d":"2022-09-28","v":119.7},{"s":"标普500医疗保健","d":"2022-10-05","v":121.1},{"s":"标普500医疗保健","d":"2022-10-12","v":122.2},{"s":"标普500医疗保健","d":"2022-10-19","v":125.3},{"s":"标普500医疗保健","d":"2022-10-26","v":131},{"s":"标普500医疗保健","d":"2022-11-02","v":129.1},{"s":"标普500医疗保健","d":"2022-11-09","v":131.4},
{"s":"标普500医疗保健","d":"2022-11-16","v":132.7},{"s":"标普500医疗保健","d":"2022-11-23","v":135.3},{"s":"标普500医疗保健","d":"2022-11-30","v":137.8},{"s":"标普500医疗保健","d":"2022-12-07","v":136},{"s":"标普500医疗保健","d":"2022-12-14","v":133.7},{"s":"标普500医疗保健","d":"2022-12-21","v":134.7},{"s":"标普500医疗保健","d":"2022-12-28","v":134.5},{"s":"标普500医疗保健","d":"2023-01-04","v":134.1},{"s":"标普500医疗保健","d":"2023-01-11","v":134},{"s":"标普500医疗保健","d":"2023-01-18","v":132.7},
{"s":"标普500医疗保健","d":"2023-01-25","v":131.2},{"s":"标普500医疗保健","d":"2023-02-01","v":131.2},{"s":"标普500医疗保健","d":"2023-02-08","v":130.9},{"s":"标普500医疗保健","d":"2023-02-15","v":130.1},{"s":"标普500医疗保健","d":"2023-02-22","v":126.8},{"s":"标普500医疗保健","d":"2023-03-01","v":127.4},{"s":"标普500医疗保健","d":"2023-03-08","v":122.2},{"s":"标普500医疗保健","d":"2023-03-15","v":123.5},{"s":"标普500医疗保健","d":"2023-03-22","v":125.7},{"s":"标普500医疗保健","d":"2023-03-29","v":128},
{"s":"标普500医疗保健","d":"2023-04-05","v":131.8},{"s":"标普500医疗保健","d":"2023-04-12","v":133},{"s":"标普500医疗保健","d":"2023-04-19","v":132.6},{"s":"标普500医疗保健","d":"2023-04-26","v":131.8},{"s":"标普500医疗保健","d":"2023-05-03","v":132},{"s":"标普500医疗保健","d":"2023-05-10","v":130.3},{"s":"标普500医疗保健","d":"2023-05-17","v":129.4},{"s":"标普500医疗保健","d":"2023-05-24","v":125.8},{"s":"标普500医疗保健","d":"2023-05-31","v":128.6},{"s":"标普500医疗保健","d":"2023-06-07","v":128.6},
{"s":"标普500医疗保健","d":"2023-06-14","v":130.3},{"s":"标普500医疗保健","d":"2023-06-21","v":130.4},{"s":"标普500医疗保健","d":"2023-06-28","v":131.2},{"s":"标普500医疗保健","d":"2023-07-05","v":127.4},{"s":"标普500医疗保健","d":"2023-07-12","v":130.1},{"s":"标普500医疗保健","d":"2023-07-19","v":134.5},{"s":"标普500医疗保健","d":"2023-07-26","v":133.5},{"s":"标普500医疗保健","d":"2023-08-02","v":130.7},{"s":"标普500医疗保健","d":"2023-08-09","v":134},{"s":"标普500医疗保健","d":"2023-08-16","v":131.8},
{"s":"标普500医疗保健","d":"2023-08-23","v":131.7},{"s":"标普500医疗保健","d":"2023-08-30","v":131.4},{"s":"标普500医疗保健","d":"2023-09-06","v":130.3},{"s":"标普500医疗保健","d":"2023-09-13","v":130.3},{"s":"标普500医疗保健","d":"2023-09-20","v":129.1},{"s":"标普500医疗保健","d":"2023-09-27","v":127.4},{"s":"标普500医疗保健","d":"2023-10-04","v":128.4},{"s":"标普500医疗保健","d":"2023-10-11","v":128.6},{"s":"标普500医疗保健","d":"2023-10-18","v":126.3},{"s":"标普500医疗保健","d":"2023-10-25","v":121.7},
{"s":"标普500医疗保健","d":"2023-11-01","v":125.8},{"s":"标普500医疗保健","d":"2023-11-08","v":124.5},{"s":"标普500医疗保健","d":"2023-11-15","v":126.8},{"s":"标普500医疗保健","d":"2023-11-22","v":129.1},{"s":"标普500医疗保健","d":"2023-11-29","v":130.1},{"s":"标普500医疗保健","d":"2023-12-06","v":130.3},{"s":"标普500医疗保健","d":"2023-12-13","v":132},{"s":"标普500医疗保健","d":"2023-12-20","v":133.3},{"s":"标普500医疗保健","d":"2023-12-27","v":134.7},{"s":"标普500医疗保健","d":"2024-01-03","v":137.6}
]
},
"layer":[
{
"data":{"name":"regions"},
"mark":{"type":"rect","cornerRadius":{"expr":"min(48, 0.08*(scale('x', datum.end) - scale('x', datum.start)))"}},
"encoding":{
"x":{"field":"start","type":"temporal","scale":{"domain":[{"year":2020,"month":1,"date":1},{"year":2024,"month":1,"date":1}],"nice":false},
"axis":{"title":null,"format":"%b-%y","tickCount":{"interval":"month","step":3},"grid":false,"domainColor":"#000000","domainWidth":2,"tickColor":"#000000","tickWidth":2,"tickSize":9,"labelFont":"DejaVu Sans Condensed","labelFontSize":23,"labelColor":"#000000","labelPadding":25,"labelBaseline":"middle","labelFlush":false,"labelOverlap":false,"labelBound":false}},
"x2":{"field":"end"},
"y":{"field":"top","type":"quantitative","scale":{"domain":[50,225],"nice":false,"zero":false},
"axis":{"title":null,"values":[50,75,100,125,150,175,200,225],"grid":true,"gridColor":"#D9D9D9","gridWidth":1.5,"domainColor":"#000000","domainWidth":2,"tickColor":"#000000","tickWidth":2,"tickSize":9,"labelFont":"DejaVu Sans Condensed","labelFontSize":23,"labelColor":"#000000","labelPadding":15.7}},
"y2":{"datum":52},
"fill":{"field":"type","type":"nominal","scale":{"domain":["美股关键事件","A股关键事件","港股关键事件"],"range":["#A6A6A6","#8DC21F","#14A0A8"]},
"legend":{"orient":"none","legendX":-78.5,"legendY":730.8,"direction":"horizontal","title":null,
"symbolType":"M-0.9567,-0.2338H0.9567A0.0433,0.0433 0 0 1 1,-0.1905V0.1905A0.0433,0.0433 0 0 1 0.9567,0.2338H-0.9567A0.0433,0.0433 0 0 1 -1,0.1905V-0.1905A0.0433,0.0433 0 0 1 -0.9567,-0.2338Z",
"symbolSize":53361,"symbolStrokeWidth":0,"symbolOpacity":1,"labelFont":"Noto Sans CJK SC","labelFontSize":27.5,"labelAlign":"center","labelOffset":-115.5,"labelLimit":400,"columnPadding":9,"padding":0,
"encode":{"symbols":{"update":{"fill":{"signal":"datum.value === '美股关键事件' ? '#EDEDED' : datum.value === 'A股关键事件' ? '#F2F7E6' : '#E3F4F4'"},"opacity":{"value":1}}},
"labels":{"update":{"fill":{"signal":"datum.value === '美股关键事件' ? '#595959' : datum.value === 'A股关键事件' ? '#8DC21F' : '#17A8AE'"}}}}}},
"opacity":{"field":"type","type":"nominal","scale":{"type":"ordinal","domain":["美股关键事件","A股关键事件","港股关键事件"],"range":[0.2,0.1,0.11]},"legend":null}
}
},
{
"data":{"name":"regions"},
"mark":{"type":"text","font":"Noto Sans CJK SC","fontSize":27.5,"fontWeight":"bold","align":"center","baseline":"middle"},
"encoding":{
"x":{"field":"lx","type":"temporal"},
"y":{"field":"ly","type":"quantitative"},
"text":{"field":"label"},
"color":{"field":"type","type":"nominal","scale":{"domain":["美股关键事件","A股关键事件","港股关键事件"],"range":["#595959","#8DC21F","#17A8AE"]},"legend":null}
}
},
{
"data":{"name":"series"},
"mark":{"type":"line","strokeWidth":3.3,"strokeJoin":"round"},
"encoding":{
"x":{"field":"d","type":"temporal"},
"y":{"field":"v","type":"quantitative"},
"stroke":{"field":"s","type":"nominal","scale":{"domain":["上证医药","深证医药","恒生综合行业指数-医疗保健业","标普500医疗保健"],"range":["#8DC21F","#137A3B","#149FAB","#BBBDB5"]},
"legend":{"orient":"none","legendX":193.5,"legendY":-80.3,"direction":"horizontal","title":null,"symbolType":"stroke","symbolSize":2401,"symbolStrokeWidth":4,"labelFont":"'DejaVu Sans Condensed', 'Noto Sans CJK SC'","labelFontSize":26,"labelColor":"#262626","labelOffset":6,"labelLimit":600,"columnPadding":43,"padding":0,
"encode":{"symbols":{"update":{"strokeCap":{"value":"round"}}}}}}
}
}
]
}
